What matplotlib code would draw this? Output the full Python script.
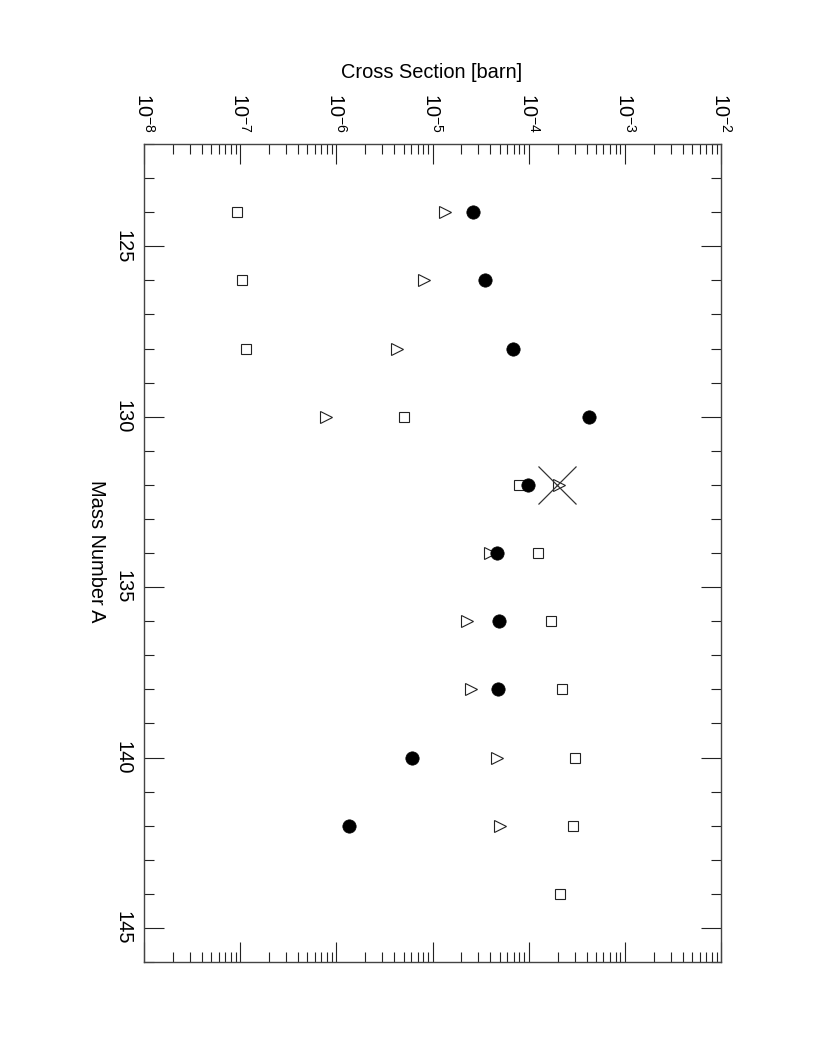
import matplotlib
matplotlib.use("Agg")
import matplotlib.pyplot as plt
from matplotlib.ticker import LogLocator, MultipleLocator, NullFormatter

plt.rcParams['font.family'] = ['Liberation Sans', 'DejaVu Sans']
plt.rcParams['mathtext.fontset'] = 'custom'
plt.rcParams['mathtext.rm'] = 'Liberation Sans'
plt.rcParams['mathtext.it'] = 'Liberation Sans:italic'
plt.rcParams['mathtext.bf'] = 'Liberation Sans:bold'
plt.rcParams['mathtext.sf'] = 'Liberation Sans'
plt.rcParams['mathtext.default'] = 'rm'

# ---- data ----
mass_circles = [124, 126, 128, 130, 132, 134, 136, 138, 140, 142]
xs_circles = [2.65e-5, 3.48e-5, 6.8e-5, 4.25e-4, 9.9e-5, 4.68e-5, 4.91e-5, 4.75e-5, 6.15e-6, 1.36e-6]

mass_triangles = [124, 126, 128, 130, 132, 134, 136, 138, 140, 142]
xs_triangles = [1.36e-5, 8.2e-6, 4.28e-6, 7.87e-7, 2.09e-4, 3.99e-5, 2.26e-5, 2.53e-5, 4.64e-5, 5.07e-5]

mass_squares = [124, 126, 128, 130, 132, 134, 136, 138, 140, 142, 144]
xs_squares = [9.38e-8, 1.04e-7, 1.16e-7, 5.07e-6, 7.87e-5, 1.24e-4, 1.71e-4, 2.24e-4, 3.06e-4, 2.89e-4, 2.14e-4]

mass_cross = [132]
xs_cross = [1.97e-4]

x_label = "Cross Section [barn]"
y_label = "Mass Number A"

# ---- figure ----
W, H = 817, 1058
fig = plt.figure(figsize=(W / 100, H / 100), dpi=100)
L, R, T, B = 144, 721, 144, 962
ax = fig.add_axes([L / W, 1 - B / H, (R - L) / W, (B - T) / H])

ax.set_xscale('log')
ax.set_xlim(1e-8, 1e-2)
ax.set_ylim(146, 122)

ax.plot(xs_squares, mass_squares, linestyle='none', marker='s', ms=7,
        mfc='white', mec='#222222', mew=0.8)
ax.plot(xs_triangles, mass_triangles, linestyle='none', marker='>', ms=8.5,
        mfc='white', mec='#222222', mew=0.8)
ax.plot(xs_circles, mass_circles, linestyle='none', marker='o', ms=9.6,
        mfc='black', mec='black', mew=0.5)
ax.plot(xs_cross, mass_cross, linestyle='none', marker='x', ms=27,
        mec='#333333', mew=0.9)

ax.xaxis.set_major_locator(LogLocator(base=10, numticks=20))
ax.xaxis.set_minor_locator(LogLocator(base=10, subs=range(2, 10), numticks=100))
ax.xaxis.set_minor_formatter(NullFormatter())
ax.yaxis.set_major_locator(MultipleLocator(5))
ax.yaxis.set_minor_locator(MultipleLocator(1))

ax.tick_params(axis='x', which='both', direction='in', top=True, bottom=True,
               labeltop=True, labelbottom=False, labelrotation=-90,
               labelsize=14.4, pad=8)
ax.tick_params(axis='y', which='both', direction='in', left=True, right=True,
               labelleft=True, labelright=False, labelrotation=-90,
               labelsize=14.4, pad=8.5)
ax.tick_params(which='major', length=14.4, width=0.8, color='#222222')
ax.tick_params(which='minor', length=7.2, width=0.8, color='#222222')
for lab in ax.get_yticklabels():
    lab.set_verticalalignment('center')

for sp in ax.spines.values():
    sp.set_linewidth(1.0)
    sp.set_color('#444444')

fig.text(432 / W, 1 - 73 / H, x_label, ha='center', va='center', fontsize=14.4)
fig.text(96 / W, 1 - 551 / H, y_label, ha='center', va='center', fontsize=14.4,
         rotation=-90)

fig.savefig("out.png", dpi=100)
